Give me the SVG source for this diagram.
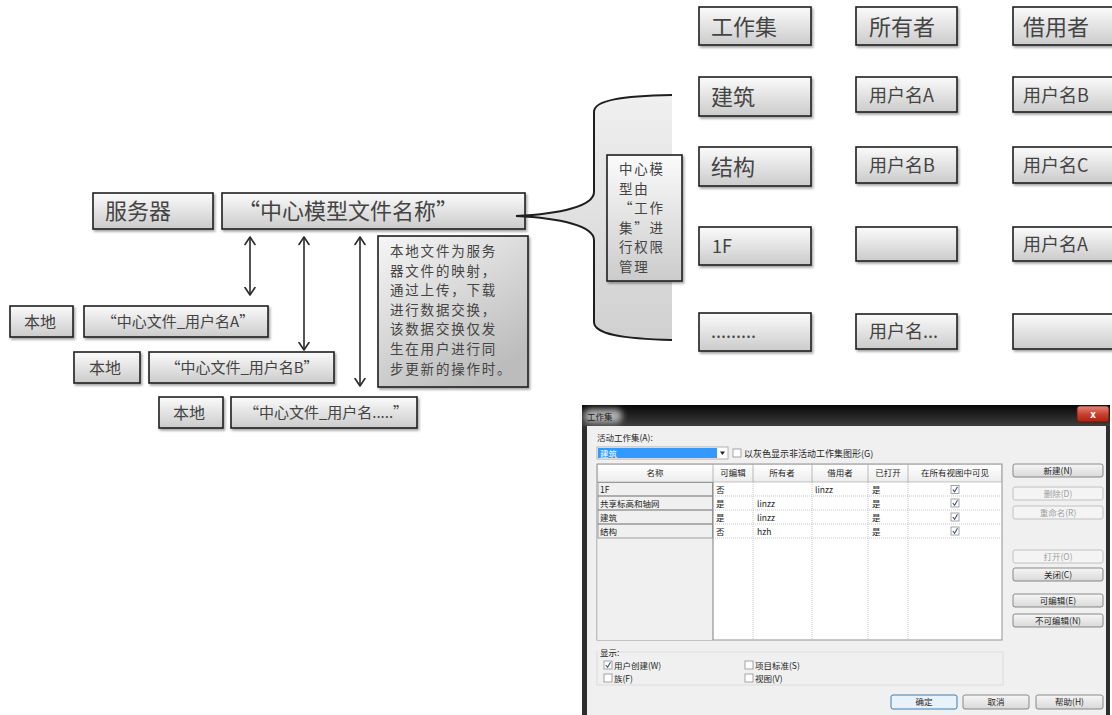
<svg xmlns="http://www.w3.org/2000/svg" width="1112" height="715" viewBox="0 0 1112 715">
<style>
  text { font-family: "Noto Sans CJK SC", "Noto Sans", sans-serif; }
  .box { fill: url(#gBox); stroke: #1e1e1e; stroke-width: 1.6; filter: url(#sh); }
  .t22 { font-size: 22px; fill: #444444; }
  .t18 { font-size: 18px; fill: #444444; }
  .t16 { font-size: 16px; fill: #444444; }
  .t15 { font-size: 15px; fill: #444444; }
  .tn { font-size: 13.5px; letter-spacing: 1.8px; fill: #444444; }
  .arr { stroke: #2a2a2a; stroke-width: 1.6; fill: none; }
  .d { font-size: 8.5px; fill: #1e1e1e; }
  .dg { font-size: 8.5px; fill: #a0a0a0; }
  .btn { fill: url(#gBtn); stroke: #707070; stroke-width: 0.8; }
  .btnd { fill: #f4f4f4; stroke: #b5b5b5; stroke-width: 0.8; }
  .dot { stroke: #b8b8b8; stroke-width: 0.8; stroke-dasharray: 1 1; fill: none; }
  .cb { fill: #fff; stroke: #8f8f8f; stroke-width: 0.8; }
  .ck { fill: none; stroke: #3d4f80; stroke-width: 1.1; }
</style>
<defs>
  <linearGradient id="gBox" x1="0" y1="0" x2="0" y2="1">
    <stop offset="0" stop-color="#fbfbfb"/>
    <stop offset="1" stop-color="#cbcbcb"/>
  </linearGradient>
  <linearGradient id="gNote" x1="0" y1="0" x2="0.6" y2="1">
    <stop offset="0" stop-color="#f6f6f6"/>
    <stop offset="1" stop-color="#bcbcbc"/>
  </linearGradient>
  <linearGradient id="gBrace" x1="0" y1="0" x2="0" y2="1">
    <stop offset="0" stop-color="#f0f0f0"/>
    <stop offset="1" stop-color="#d0d0d0"/>
  </linearGradient>
  <linearGradient id="gTitle" x1="0" y1="0" x2="0" y2="1">
    <stop offset="0" stop-color="#080808"/>
    <stop offset="1" stop-color="#3e3e3e"/>
  </linearGradient>
  <linearGradient id="gClose" x1="0" y1="0" x2="0" y2="1">
    <stop offset="0" stop-color="#e8877a"/>
    <stop offset="0.5" stop-color="#c9432f"/>
    <stop offset="1" stop-color="#a8200f"/>
  </linearGradient>
  <linearGradient id="gBtn" x1="0" y1="0" x2="0" y2="1">
    <stop offset="0" stop-color="#f6f6f6"/>
    <stop offset="1" stop-color="#d9d9d9"/>
  </linearGradient>
  <linearGradient id="gHead" x1="0" y1="0" x2="0" y2="1">
    <stop offset="0" stop-color="#ffffff"/>
    <stop offset="1" stop-color="#ececec"/>
  </linearGradient>
  <filter id="sh" x="-10%" y="-15%" width="125%" height="145%">
    <feDropShadow dx="1.5" dy="2" stdDeviation="1.3" flood-color="#000" flood-opacity="0.35"/>
  </filter>
  <filter id="blur" x="-30%" y="-50%" width="160%" height="200%">
    <feGaussianBlur stdDeviation="3"/>
  </filter>
  <marker id="ah" viewBox="0 0 10 12" refX="8.5" refY="6" markerWidth="10" markerHeight="12" orient="auto-start-reverse" markerUnits="userSpaceOnUse">
    <path d="M1,1 L8.5,6 L1,11" fill="none" stroke="#2a2a2a" stroke-width="1.6" stroke-linecap="round" stroke-linejoin="round"/>
  </marker>
</defs>

<rect width="1112" height="715" fill="#ffffff"/>

<!-- left side -->
<g id="server">
  <rect class="box" x="93" y="193" width="120" height="36"/>
  <text class="t22" x="105" y="219">服务器</text>
</g>
<g id="central">
  <rect class="box" x="222" y="193" width="303" height="36"/>
  <text class="t22" x="238" y="219">“中心模型文件名称”</text>
</g>
<g id="note">
  <rect x="378" y="236" width="150" height="151" fill="url(#gNote)" stroke="#1e1e1e" stroke-width="1.6" filter="url(#sh)"/>
  <text class="tn" x="390" y="256"><tspan x="390" y="256">本地文件为服务</tspan><tspan x="390" y="275.6">器文件的映射，</tspan><tspan x="390" y="295.2">通过上传，下载</tspan><tspan x="390" y="314.8">进行数据交换，</tspan><tspan x="390" y="334.4">该数据交换仅发</tspan><tspan x="390" y="354">生在用户进行同</tspan><tspan x="390" y="373.6">步更新的操作时。</tspan></text>
</g>
<g id="local1">
  <rect class="box" x="10" y="306" width="63" height="31"/>
  <text class="t16" x="40" y="327.5" text-anchor="middle">本地</text>
</g>
<g id="fileA">
  <rect class="box" x="84" y="306" width="184" height="31"/>
  <text class="t15" x="178" y="327" text-anchor="middle">“中心文件_用户名A”</text>
</g>
<g id="local2">
  <rect class="box" x="74" y="352" width="66" height="31"/>
  <text class="t16" x="105" y="373.5" text-anchor="middle">本地</text>
</g>
<g id="fileB">
  <rect class="box" x="149" y="352" width="185" height="31"/>
  <text class="t15" x="242" y="373" text-anchor="middle">“中心文件_用户名B”</text>
</g>
<g id="local3">
  <rect class="box" x="159" y="397" width="64" height="31"/>
  <text class="t16" x="189" y="418.5" text-anchor="middle">本地</text>
</g>
<g id="fileN">
  <rect class="box" x="231" y="397" width="186" height="31"/>
  <text class="t15" x="326" y="418" text-anchor="middle">“中心文件_用户名.....”</text>
</g>

<!-- brace -->
<g id="brace">
  <path d="M672,95 C622,96 594,100 594,112 L594,192 C594,206 560,214 516,216 C560,218 594,226 594,240 L594,322 C594,334 622,339 672,340 Z" fill="url(#gBrace)" stroke="none"/>
  <path d="M672,95 C622,96 594,100 594,112 L594,192 C594,206 560,214 516,216 C560,218 594,226 594,240 L594,322 C594,334 622,339 672,340" fill="none" stroke="#1e1e1e" stroke-width="2"/>
</g>
<g id="workset-note">
  <rect class="box" x="607" y="155" width="75" height="126"/>
  <text class="tn" x="619" y="174"><tspan x="619" y="174">中心模</tspan><tspan x="619" y="193.6">型由</tspan><tspan x="619" y="213.2">“工作</tspan><tspan x="619" y="232.8">集”进</tspan><tspan x="619" y="252.4">行权限</tspan><tspan x="619" y="272">管理</tspan></text>
</g>

<!-- connectors -->
<g id="connectors">
  <line class="arr" x1="250" y1="237" x2="250" y2="295" stroke-width="2" marker-start="url(#ah)" marker-end="url(#ah)"/>
  <line class="arr" x1="304" y1="237" x2="304" y2="350" marker-start="url(#ah)" marker-end="url(#ah)"/>
  <line class="arr" x1="360" y1="237" x2="360" y2="386" marker-start="url(#ah)" marker-end="url(#ah)"/>
</g>

<!-- right table -->
<g id="h-workset"><rect class="box" x="699" y="7" width="112" height="38"/><text class="t22" x="711" y="35">工作集</text></g>
<g id="h-owner"><rect class="box" x="856" y="7" width="101" height="38"/><text class="t22" x="869" y="35">所有者</text></g>
<g id="h-borrower"><rect class="box" x="1013" y="7" width="110" height="38"/><text class="t22" x="1023" y="35">借用者</text></g>

<g id="r1-name"><rect class="box" x="699" y="77" width="112" height="39"/><text class="t22" x="711" y="105">建筑</text></g>
<g id="r1-owner"><rect class="box" x="856" y="77" width="101" height="35"/><text class="t18" x="869" y="102">用户名A</text></g>
<g id="r1-borrower"><rect class="box" x="1013" y="77" width="110" height="35"/><text class="t18" x="1023" y="102">用户名B</text></g>

<g id="r2-name"><rect class="box" x="699" y="147" width="112" height="39"/><text class="t22" x="711" y="175">结构</text></g>
<g id="r2-owner"><rect class="box" x="856" y="147" width="101" height="36"/><text class="t18" x="869" y="172">用户名B</text></g>
<g id="r2-borrower"><rect class="box" x="1013" y="147" width="110" height="36"/><text class="t18" x="1023" y="172">用户名C</text></g>

<g id="r3-name"><rect class="box" x="699" y="227" width="112" height="38"/><text class="t18" x="712" y="252.5">1F</text></g>
<g id="r3-owner"><rect class="box" x="856" y="227" width="101" height="34"/></g>
<g id="r3-borrower"><rect class="box" x="1013" y="227" width="110" height="34"/><text class="t18" x="1023" y="251">用户名A</text></g>

<g id="r4-name"><rect class="box" x="699" y="313" width="112" height="38"/><text class="t18" x="711" y="338">.........</text></g>
<g id="r4-owner"><rect class="box" x="856" y="314" width="101" height="35"/><text class="t18" x="869" y="338">用户名...</text></g>
<g id="r4-borrower"><rect class="box" x="1013" y="314" width="110" height="35"/></g>

<!-- dialog screenshot -->
<g id="dialog">
  <rect x="582" y="405" width="528" height="312" fill="#2e2e2e"/>
  <rect x="582" y="405" width="528" height="21" fill="url(#gTitle)"/>
  <rect x="584" y="409" width="38" height="14" rx="6" fill="#c9c9c9" opacity="0.85" filter="url(#blur)"/>
  <text x="587" y="419.5" font-size="8.5" fill="#1a1a1a">工作集</text>
  <rect x="1077" y="406" width="32" height="16" rx="3" fill="url(#gClose)" stroke="#5a1a10" stroke-width="0.8"/>
  <text x="1093" y="418" font-size="10" font-weight="bold" fill="#ffffff" text-anchor="middle">x</text>
  <rect x="587" y="426" width="519" height="292" fill="#f0f0f0"/>

  <text class="d" x="597" y="441">活动工作集(A):</text>
  <rect x="597" y="447" width="131" height="12" fill="#fff" stroke="#a0a0a0" stroke-width="0.8"/>
  <rect x="598" y="448" width="119" height="10" fill="#3399ff"/>
  <text x="600" y="456.5" font-size="8.5" fill="#ffffff">建筑</text>
  <path d="M720,451.5 L725,451.5 L722.5,455 Z" fill="#222"/>
  <rect class="cb" x="733" y="449" width="8" height="8"/>
  <text x="744" y="457" font-size="9" fill="#1e1e1e">以灰色显示非活动工作集图形(G)</text>

  <!-- table -->
  <rect x="597" y="464" width="405" height="176" fill="#ffffff" stroke="#828790" stroke-width="0.9"/>
  <rect x="597.5" y="482" width="115.5" height="158" fill="#f0f0f0"/>
  <rect x="597.5" y="464.5" width="404" height="17.5" fill="url(#gHead)" stroke="#a0a0a0" stroke-width="0.6"/>
  <g stroke="#a8a8a8" stroke-width="0.8">
    <line x1="713" y1="464" x2="713" y2="482"/>
    <line x1="753" y1="464" x2="753" y2="482"/>
    <line x1="812" y1="464" x2="812" y2="482"/>
    <line x1="868" y1="464" x2="868" y2="482"/>
    <line x1="908" y1="464" x2="908" y2="482"/>
  </g>
  <g class="d" text-anchor="middle">
    <text x="655" y="476">名称</text>
    <text x="733" y="476">可编辑</text>
    <text x="782" y="476">所有者</text>
    <text x="840" y="476">借用者</text>
    <text x="888" y="476">已打开</text>
    <text x="955" y="476">在所有视图中可见</text>
  </g>
  <line x1="713" y1="482" x2="713" y2="640" stroke="#707070" stroke-width="0.9"/>
  <g class="dot">
    <line x1="753" y1="482" x2="753" y2="640"/>
    <line x1="812" y1="482" x2="812" y2="640"/>
    <line x1="868" y1="482" x2="868" y2="640"/>
    <line x1="908" y1="482" x2="908" y2="640"/>
    <line x1="713" y1="496" x2="1002" y2="496"/>
    <line x1="713" y1="510" x2="1002" y2="510"/>
    <line x1="713" y1="524" x2="1002" y2="524"/>
    <line x1="713" y1="538" x2="1002" y2="538"/>
  </g>
  <g fill="none" stroke="#8a8a8a" stroke-width="0.8">
    <rect x="598" y="482.5" width="114.5" height="13.5"/>
    <rect x="598" y="496" width="114.5" height="14"/>
    <rect x="598" y="510" width="114.5" height="14"/>
    <rect x="598" y="524" width="114.5" height="14"/>
  </g>
  <g class="d">
    <text x="600" y="492.5">1F</text>
    <text x="716" y="492.5">否</text>
    <text x="815" y="492.5">linzz</text>
    <text x="872" y="492.5">是</text>
    <text x="600" y="506.5">共享标高和轴网</text>
    <text x="716" y="506.5">是</text>
    <text x="757" y="506.5">linzz</text>
    <text x="872" y="506.5">是</text>
    <text x="600" y="520.5">建筑</text>
    <text x="716" y="520.5">是</text>
    <text x="757" y="520.5">linzz</text>
    <text x="872" y="520.5">是</text>
    <text x="600" y="534.5">结构</text>
    <text x="716" y="534.5">否</text>
    <text x="757" y="534.5">hzh</text>
    <text x="872" y="534.5">是</text>
  </g>
  <g>
    <rect class="cb" x="951" y="485.5" width="8" height="8"/><path class="ck" d="M952.8,489.5 L954.6,491.8 L957.5,486.8"/>
    <rect class="cb" x="951" y="499" width="8" height="8"/><path class="ck" d="M952.8,503 L954.6,505.3 L957.5,500.3"/>
    <rect class="cb" x="951" y="513" width="8" height="8"/><path class="ck" d="M952.8,517 L954.6,519.3 L957.5,514.3"/>
    <rect class="cb" x="951" y="527" width="8" height="8"/><path class="ck" d="M952.8,531 L954.6,533.3 L957.5,528.3"/>
  </g>

  <!-- side buttons -->
  <rect class="btn" x="1013" y="464" width="90" height="13" rx="2"/>
  <text class="d" x="1058" y="473.5" text-anchor="middle">新建(N)</text>
  <rect class="btnd" x="1013" y="487" width="90" height="13" rx="2"/>
  <text class="dg" x="1058" y="496.5" text-anchor="middle">删除(D)</text>
  <rect class="btnd" x="1013" y="506" width="90" height="13" rx="2"/>
  <text class="dg" x="1058" y="515.5" text-anchor="middle">重命名(R)</text>
  <rect class="btnd" x="1013" y="550" width="90" height="13" rx="2"/>
  <text class="dg" x="1058" y="559.5" text-anchor="middle">打开(O)</text>
  <rect class="btn" x="1013" y="568" width="90" height="13" rx="2"/>
  <text class="d" x="1058" y="577.5" text-anchor="middle">关闭(C)</text>
  <rect class="btn" x="1013" y="594" width="90" height="13" rx="2"/>
  <text class="d" x="1058" y="603.5" text-anchor="middle">可编辑(E)</text>
  <rect class="btn" x="1013" y="614" width="90" height="13" rx="2"/>
  <text class="d" x="1058" y="623.5" text-anchor="middle">不可编辑(N)</text>

  <!-- display group -->
  <rect x="597" y="652" width="406" height="33" fill="none" stroke="#d8d8d8" stroke-width="0.8"/>
  <rect x="598" y="648" width="20" height="8" fill="#f0f0f0"/>
  <text class="d" x="600" y="656">显示:</text>
  <rect class="cb" x="604" y="661" width="8" height="8"/><path class="ck" d="M605.8,665 L607.6,667.3 L610.5,662.3"/>
  <text class="d" x="614" y="668.5">用户创建(W)</text>
  <rect class="cb" x="604" y="674" width="8" height="8"/>
  <text class="d" x="614" y="681.5">族(F)</text>
  <rect class="cb" x="745" y="661" width="8" height="8"/>
  <text class="d" x="755" y="668.5">项目标准(S)</text>
  <rect class="cb" x="745" y="674" width="8" height="8"/>
  <text class="d" x="755" y="681.5">视图(V)</text>

  <!-- bottom buttons -->
  <rect x="891" y="695" width="66" height="14" rx="2" fill="#e8f2fa" stroke="#3c7fb1" stroke-width="1"/>
  <text class="d" x="924" y="705" text-anchor="middle">确定</text>
  <rect class="btn" x="963" y="695" width="66" height="14" rx="2"/>
  <text class="d" x="996" y="705" text-anchor="middle">取消</text>
  <rect class="btn" x="1036" y="695" width="67" height="14" rx="2"/>
  <text class="d" x="1069.5" y="705" text-anchor="middle">帮助(H)</text>
</g>
</svg>
